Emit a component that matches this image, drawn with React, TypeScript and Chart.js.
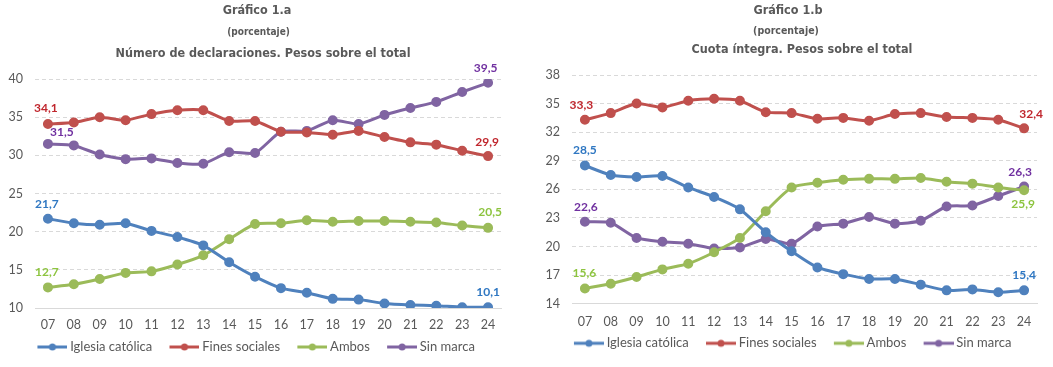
import React, { useEffect, useRef } from "react";
import { Chart, registerables } from "chart.js";

Chart.register(...registerables);

// ---------- DATA ----------
const years = ["07", "08", "09", "10", "11", "12", "13", "14", "15", "16", "17", "18", "19", "20", "21", "22", "23", "24"];
const seriesNames = ["Iglesia católica", "Fines sociales", "Ambos", "Sin marca"];

// Gráfico 1.a — Número de declaraciones (%)
const declIglesia = [21.7, 21.1, 20.9, 21.1, 20.1, 19.3, 18.2, 16.0, 14.1, 12.6, 12.0, 11.2, 11.1, 10.6, 10.4, 10.3, 10.1, 10.1];
const declFines = [34.1, 34.3, 35.0, 34.6, 35.4, 35.9, 35.9, 34.5, 34.5, 33.1, 33.0, 32.7, 33.2, 32.4, 31.7, 31.4, 30.6, 29.9];
const declAmbos = [12.7, 13.1, 13.8, 14.6, 14.8, 15.7, 16.9, 19.0, 21.0, 21.1, 21.5, 21.3, 21.4, 21.4, 21.3, 21.2, 20.8, 20.5];
const declSin = [31.5, 31.3, 30.1, 29.5, 29.6, 29.0, 28.9, 30.4, 30.3, 33.1, 33.2, 34.6, 34.1, 35.3, 36.2, 37.0, 38.3, 39.5];

// Gráfico 1.b — Cuota íntegra (%)
const cuotaIglesia = [28.5, 27.5, 27.3, 27.4, 26.2, 25.2, 23.9, 21.5, 19.5, 17.8, 17.1, 16.6, 16.6, 16.0, 15.4, 15.5, 15.2, 15.4];
const cuotaFines = [33.3, 34.0, 35.0, 34.6, 35.3, 35.5, 35.3, 34.1, 34.0, 33.4, 33.5, 33.2, 33.9, 34.0, 33.6, 33.5, 33.3, 32.4];
const cuotaAmbos = [15.6, 16.1, 16.8, 17.6, 18.2, 19.4, 20.9, 23.7, 26.2, 26.7, 27.0, 27.1, 27.1, 27.2, 26.8, 26.6, 26.2, 25.9];
const cuotaSin = [22.6, 22.5, 20.9, 20.5, 20.3, 19.8, 19.9, 20.8, 20.3, 22.1, 22.4, 23.1, 22.4, 22.7, 24.2, 24.3, 25.3, 26.3];

const leftTicks = [10, 15, 20, 25, 30, 35, 40];
const rightTicks = [14, 17, 20, 23, 26, 29, 32, 35, 38];

// ---------- STYLES ----------
const lineColors = ["#4F81BD", "#C0504D", "#9BBB59", "#8064A2"];
const labelColors = ["#2F77C2", "#C0262D", "#8DC43F", "#7030A0"];
const textGray = "#595959";

// label offsets [startDx, startDy, endDx, endDy]
const leftLabelOffsets = [
  [-1, -15, 0, -15],
  [-2, -15.5, -1, -13.5],
  [-1, -15.5, 2, -15.5],
  [14, -12, -2.5, -14.5],
];
const rightLabelOffsets = [
  [0, -15, 0, -15],
  [-3.5, -14.5, 7, -14],
  [-0.5, -15.5, -1, 13.5],
  [1, -14.5, -4, -14.5],
];

const fmt = (v: number) => v.toFixed(1).replace(".", ",");

const titlePlugin = {
  id: "stackTitles",
  afterDraw(chart: any, _args: any, opts: any) {
    const ctx = chart.ctx;
    ctx.save();
    ctx.fillStyle = textGray;
    ctx.textAlign = "center";
    ctx.textBaseline = "middle";
    for (const line of opts.lines || []) {
      ctx.font = line.font;
      ctx.fillText(line.text, line.x, line.y);
    }
    ctx.restore();
  },
};

const endLabelPlugin = {
  id: "endLabels",
  afterDatasetsDraw(chart: any, _args: any, opts: any) {
    const ctx = chart.ctx;
    ctx.save();
    ctx.font = "bold 12px Lato";
    ctx.textAlign = "center";
    ctx.textBaseline = "middle";
    chart.data.datasets.forEach((ds: any, i: number) => {
      const pts = chart.getDatasetMeta(i).data;
      const off = opts.offsets[i];
      ctx.fillStyle = labelColors[i];
      const first = pts[0];
      const last = pts[pts.length - 1];
      ctx.fillText(fmt(ds.data[0]), first.x + off[0], first.y + off[1]);
      ctx.fillText(fmt(ds.data[ds.data.length - 1]), last.x + off[2], last.y + off[3]);
    });
    ctx.restore();
  },
};

// legend icon: line with a dot, wider than the legend box so the text sits close
function makeLegendIcon(color: string) {
  const c = document.createElement("canvas");
  c.width = 45;
  c.height = 10;
  const g = c.getContext("2d")!;
  g.strokeStyle = color;
  g.lineWidth = 3;
  g.beginPath();
  g.moveTo(15, 5);
  g.lineTo(45, 5);
  g.stroke();
  g.fillStyle = color;
  g.beginPath();
  g.arc(30, 5, 3.5, 0, Math.PI * 2);
  g.fill();
  return c;
}

type Props = {
  width: number;
  height: number;
  series: number[][];
  ticks: number[];
  titleLines: { text: string; font: string; x: number; y: number }[];
  padding: { left: number; right: number; top: number; bottom: number };
  xTickPad: number;
  xAxisHeight: number;
  offsets: number[][];
};

function LineChart(p: Props) {
  const ref = useRef<HTMLCanvasElement>(null);
  useEffect(() => {
    const icons = lineColors.map(makeLegendIcon);
    const chart = new Chart(ref.current!, {
      type: "line",
      data: {
        labels: years,
        datasets: p.series.map((d, i) => ({
          label: seriesNames[i],
          data: d,
          borderColor: lineColors[i],
          backgroundColor: lineColors[i],
          pointBackgroundColor: lineColors[i],
          pointBorderColor: lineColors[i],
          borderWidth: 3,
          pointRadius: 3.5,
          pointHoverRadius: 3.5,
          tension: 0.2,
          fill: false,
        })),
      },
      options: {
        responsive: false,
        animation: false,
        events: [],
        layout: { padding: p.padding },
        scales: {
          x: {
            offset: true,
            grid: { display: false, drawTicks: false },
            border: { display: true, color: "#D9D9D9", width: 1 },
            ticks: { color: textGray, font: { family: "Lato", size: 12.5 }, padding: p.xTickPad, maxRotation: 0 },
            afterFit: (axis: any) => {
              axis.height = p.xAxisHeight;
            },
          },
          y: {
            min: p.ticks[0],
            max: p.ticks[p.ticks.length - 1],
            afterBuildTicks: (axis: any) => {
              axis.ticks = p.ticks.map((v) => ({ value: v }));
            },
            afterFit: (axis: any) => {
              axis.width = 35;
            },
            grid: { color: "#D9D9D9", drawTicks: false, lineWidth: 1 },
            border: { display: false, dash: [4, 3] },
            ticks: { color: textGray, font: { family: "Lato", size: 12.5 }, padding: 12 },
          },
        },
        plugins: {
          legend: {
            position: "bottom",
            labels: {
              usePointStyle: true,
              pointStyleWidth: 37.5,
              padding: 6,
              color: textGray,
              font: { family: "Lato", size: 13 },
              generateLabels: (chart: any) =>
                chart.data.datasets.map((ds: any, i: number) => ({
                  text: ds.label,
                  pointStyle: icons[i],
                  fillStyle: lineColors[i],
                  strokeStyle: lineColors[i],
                  lineWidth: 0,
                  fontColor: textGray,
                  datasetIndex: i,
                  hidden: false,
                })),
            },
          },
          tooltip: { enabled: false },
          stackTitles: { lines: p.titleLines },
          endLabels: { offsets: p.offsets },
        } as any,
      },
      plugins: [titlePlugin, endLabelPlugin],
    });
    return () => chart.destroy();
  }, []);
  return <canvas ref={ref} width={p.width} height={p.height} style={{ display: "block" }} />;
}

export default function App() {
  const tf = "bold 12.5px 'DejaVu Sans Condensed', 'DejaVu Sans'";
  return (
    <div style={{ position: "absolute", left: 0, top: 0, width: 1053, height: 367, display: "flex", background: "#fff" }}>
      <LineChart
        width={520}
        height={367}
        series={[declIglesia, declFines, declAmbos, declSin]}
        ticks={leftTicks}
        titleLines={[
          { text: "Gráfico 1.a", font: tf, x: 257, y: 11 },
          { text: "(porcentaje)", font: "bold 10px 'DejaVu Sans Condensed', 'DejaVu Sans'", x: 258.5, y: 32 },
          { text: "Número de declaraciones. Pesos sobre el total", font: tf, x: 263, y: 54 },
        ]}
        padding={{ left: 0, right: 19, top: 79, bottom: 3.5 }}
        xTickPad={9.5}
        xAxisHeight={26.5}
        offsets={leftLabelOffsets}
      />
      <LineChart
        width={533}
        height={367}
        series={[cuotaIglesia, cuotaFines, cuotaAmbos, cuotaSin]}
        ticks={rightTicks}
        titleLines={[
          { text: "Gráfico 1.b", font: tf, x: 268, y: 11 },
          { text: "(porcentaje)", font: "bold 10.5px 'DejaVu Sans Condensed', 'DejaVu Sans'", x: 266, y: 31 },
          { text: "Cuota íntegra. Pesos sobre el total", font: tf, x: 282, y: 50 },
        ]}
        padding={{ left: 17, right: 16, top: 75, bottom: 7.2 }}
        xTickPad={10.5}
        xAxisHeight={27.1}
        offsets={rightLabelOffsets}
      />
    </div>
  );
}
